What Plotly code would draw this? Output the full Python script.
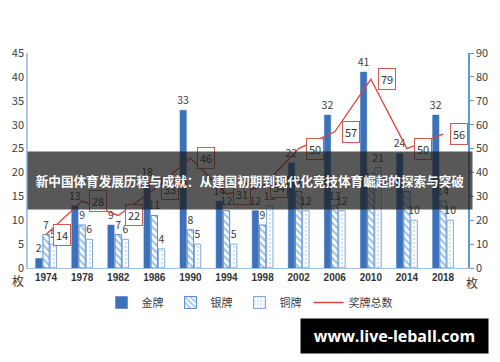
import plotly.graph_objects as go

years = ["1974", "1978", "1982", "1986", "1990", "1994", "1998", "2002", "2006", "2010", "2014", "2018"]
gold = [2, 13, 9, 18, 33, 14, 12, 22, 32, 41, 24, 32]
silver = [7, 9, 7, 11, 8, 12, 9, 16, 13, 17, 16, 14]
bronze = [5, 6, 6, 4, 5, 5, 13, 12, 12, 21, 10, 10]
total = [14, 28, 22, 33, 46, 31, 34, 50, 57, 79, 50, 56]

title_text = "新中国体育发展历程与成就：从建国初期到现代化竞技体育崛起的探索与突破"
watermark = "www.live-leball.com"

FONT = "Noto Sans CJK SC, Noto Sans, sans-serif"
label_font = dict(family=FONT, size=10.5, color="#404040")

PW, PH, ML, MT = 449, 215, 23, 53  # plot area in px


def px(xp):
    return (xp - ML) / PW


def py(yp):
    return (MT + PH - yp) / PH


fig = go.Figure()
fig.add_trace(go.Bar(
    x=years, y=gold, name="金牌",
    marker=dict(color="#3d72bb", line=dict(color="#3d72bb", width=0.5)),
    text=gold, textposition="outside", textfont=label_font, cliponaxis=False,
    constraintext="none",
))
fig.add_trace(go.Bar(
    x=years, y=silver, name="银牌",
    marker=dict(color="white", line=dict(color="#4f8fd3", width=1),
                pattern=dict(shape="\\", fgcolor="#3f86d0", bgcolor="white",
                             size=5, solidity=0.45, fillmode="overlay")),
    text=silver, textposition="outside", textfont=label_font, cliponaxis=False,
    constraintext="none",
))
fig.add_trace(go.Bar(
    x=years, y=bronze, name="铜牌",
    marker=dict(color="white", line=dict(color="#7fa9dc", width=1),
                pattern=dict(shape=".", fgcolor="#9dbbe0", bgcolor="white",
                             size=4, solidity=0.25, fillmode="overlay")),
    text=bronze, textposition="outside", textfont=label_font, cliponaxis=False,
    constraintext="none",
))
fig.add_trace(go.Scatter(
    x=years, y=total, name="奖牌总数", yaxis="y2", mode="lines",
    line=dict(color="#d9473c", width=1.3),
))
# spacer legend entry (invisible) so the last legend text is not clipped
fig.add_trace(go.Scatter(
    x=[None], y=[None], name=" ", mode="lines", line=dict(width=0, color="rgba(0,0,0,0)"),
    hoverinfo="skip",
))

for i, v in enumerate(total):
    fig.add_annotation(
        x=i, y=v, xref="x", yref="y2", text=str(v), showarrow=False,
        xshift=16, xanchor="center", yanchor="middle",
        font=dict(family=FONT, size=11, color="#333333"),
        bgcolor="white", bordercolor="#cf5a4e", borderwidth=1, borderpad=2,
    )

fig.add_annotation(x=px(13), y=py(280), xref="paper", yref="paper", text="枚",
                   xanchor="center", yanchor="middle",
                   showarrow=False, font=dict(family=FONT, size=12, color="#404040"))
fig.add_annotation(x=px(476), y=py(282), xref="paper", yref="paper", text="枚",
                   xanchor="center", yanchor="middle",
                   showarrow=False, font=dict(family=FONT, size=12, color="#404040"))

# overlay banner (annotation so it sits above the value boxes)
fig.add_annotation(x=px(250), y=py(180.5), xref="paper", yref="paper",
                   text=f"<b>{title_text}</b>", xanchor="center", yanchor="middle",
                   width=444, height=57, borderpad=0, align="center", valign="middle",
                   bgcolor="rgba(30,30,30,0.74)",
                   showarrow=False, font=dict(family=FONT, size=12.6, color="white"))

# watermark
fig.add_annotation(x=px(397.5), y=py(336), xref="paper", yref="paper",
                   text=f"<b>{watermark}</b>", showarrow=False, xanchor="center", yanchor="middle",
                   width=187, height=34, borderpad=0, bgcolor="black",
                   font=dict(family="Open Sans, DejaVu Sans, sans-serif", size=16, color="white"))

fig.update_layout(
    width=500, height=362,
    margin=dict(l=ML, r=500 - ML - PW, t=MT, b=362 - MT - PH),
    paper_bgcolor="white", plot_bgcolor="white",
    barmode="group", bargap=0.4, bargroupgap=0.12,
    showlegend=True,
    legend=dict(orientation="h", x=px(98), xanchor="left", y=py(288), yanchor="top",
                font=dict(family=FONT, size=11, color="#404040"),
                itemwidth=30, entrywidth=24, tracegroupgap=0, bgcolor="rgba(0,0,0,0)"),
    xaxis=dict(type="category", showline=True, linecolor="#9dc3e6", linewidth=1,
               ticks="", showgrid=False,
               tickfont=dict(family="Liberation Sans, Arial, sans-serif", size=10, color="#333333", weight="bold")),
    yaxis=dict(range=[0, 45], dtick=5, showgrid=False, zeroline=False,
               showline=True, linecolor="#a9c8ea", linewidth=1.5, ticks="",
               tickfont=dict(family=FONT, size=11, color="#404040")),
    yaxis2=dict(range=[0, 90], dtick=10, overlaying="y", side="right", showgrid=False,
                zeroline=False, showline=True, linecolor="#5b9bd5", linewidth=1.5,
                ticks="outside", ticklen=4, tickcolor="#5b9bd5",
                tickfont=dict(family=FONT, size=11, color="#404040")),
    font=dict(family=FONT),
)

fig.write_html("out.html")
